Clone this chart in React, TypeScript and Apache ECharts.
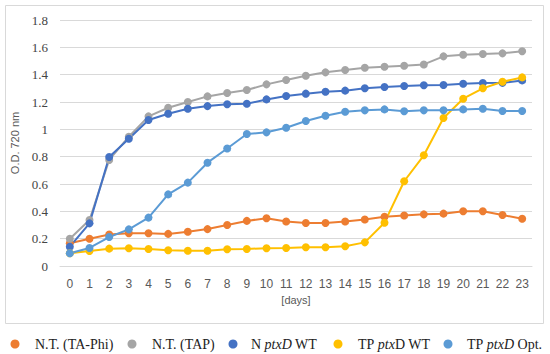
import React, { useEffect, useRef } from "react";
import * as echarts from "echarts";

const days = ["0","1","2","3","4","5","6","7","8","9","10","11","12","13","14","15","16","17","18","19","20","21","22","23"];
const ntTaPhi = [0.166,0.2,0.23,0.24,0.24,0.235,0.25,0.27,0.3,0.33,0.35,0.325,0.315,0.315,0.325,0.34,0.36,0.37,0.378,0.383,0.4,0.4,0.373,0.346];
const ntTap = [0.2,0.337,0.776,0.946,1.095,1.158,1.2,1.241,1.266,1.288,1.329,1.361,1.392,1.417,1.434,1.45,1.458,1.465,1.475,1.534,1.546,1.551,1.556,1.571];
const nPtxdWt = [0.141,0.312,0.798,0.931,1.068,1.114,1.15,1.17,1.183,1.187,1.219,1.244,1.261,1.275,1.283,1.3,1.31,1.317,1.322,1.324,1.334,1.339,1.34,1.358];
const tpPtxdWt = [0.093,0.11,0.127,0.13,0.125,0.115,0.111,0.112,0.122,0.125,0.13,0.132,0.137,0.137,0.144,0.173,0.317,0.62,0.81,1.083,1.224,1.3,1.348,1.38];
const tpPtxdOpt = [0.093,0.132,0.212,0.268,0.354,0.524,0.61,0.756,0.86,0.966,0.978,1.012,1.061,1.1,1.129,1.139,1.146,1.132,1.139,1.139,1.146,1.151,1.134,1.134];

const seriesNames = ["N.T. (TA-Phi)", "N.T. (TAP)", "N ptxD WT", "TP ptxD WT", "TP ptxD Opt."];
const legendLabels = ["N.T. (TA-Phi)", "N.T. (TAP)", "N {i|ptxD} WT", "TP {i|ptx}D WT", "TP {i|ptxD} Opt."];
const colors = ["#ED7D31", "#A5A5A5", "#4472C4", "#FFC000", "#5B9BD5"];
const legendDotX = [15, 132, 233, 338, 448];
const legendTextX = [35, 152, 251, 358, 467];

export default function App() {
  const ref = useRef<HTMLDivElement>(null);
  useEffect(() => {
    if (!ref.current) return;
    const chart = echarts.init(ref.current, null, { renderer: "svg" });
    const dataSets = [ntTaPhi, ntTap, nPtxdWt, tpPtxdWt, tpPtxdOpt];
    const serif = "Liberation Serif";
    const sans = "Liberation Sans";
    const legendY = 344;
    const legendGraphics: any[] = [];
    seriesNames.forEach((n, i) => {
      legendGraphics.push({
        type: "circle",
        shape: { cx: legendDotX[i], cy: legendY, r: 4.5 },
        style: { fill: colors[i] },
        silent: true,
      });
      legendGraphics.push({
        type: "text",
        x: legendTextX[i],
        y: legendY,
        silent: true,
        style: {
          text: legendLabels[i],
          fontFamily: serif,
          fontSize: 14,
          fill: "#222222",
          verticalAlign: "middle",
          align: "left",
          rich: { i: { fontFamily: serif, fontSize: 14, fontStyle: "italic", fill: "#222222", color: "#222222" } },
        },
      });
    });
    chart.setOption({
      animation: false,
      backgroundColor: "#ffffff",
      graphic: [
        {
          type: "rect",
          shape: { x: 5.5, y: 5.5, width: 538, height: 318 },
          style: { fill: "none", stroke: "#d9d9d9", lineWidth: 1 },
          silent: true,
        },
        ...legendGraphics,
      ],
      grid: { left: 60, right: 18, top: 20, bottom: 88, containLabel: false },
      xAxis: {
        type: "category",
        data: days,
        boundaryGap: true,
        name: "[days]",
        nameLocation: "middle",
        nameGap: 28,
        nameTextStyle: { fontFamily: sans, fontSize: 11, color: "#595959" },
        axisLine: { show: true, lineStyle: { color: "#d9d9d9" } },
        axisTick: { show: false },
        axisLabel: { fontFamily: sans, fontSize: 12, color: "#595959", margin: 12, interval: 0 },
      },
      yAxis: {
        type: "value",
        min: 0,
        max: 1.8,
        interval: 0.2,
        name: "O.D. 720 nm",
        nameLocation: "middle",
        nameGap: 35,
        nameTextStyle: { fontFamily: sans, fontSize: 11, color: "#595959" },
        axisLine: { show: false },
        axisTick: { show: false },
        axisLabel: { fontFamily: serif, fontSize: 13, color: "#444444", margin: 12 },
        splitLine: { lineStyle: { color: "#d9d9d9", width: 1 } },
      },
      series: seriesNames.map((n, i) => ({
        name: n,
        type: "line",
        data: dataSets[i],
        color: colors[i],
        symbol: "circle",
        symbolSize: 8,
        showAllSymbol: true,
        lineStyle: { width: 2, color: colors[i] },
        itemStyle: { color: colors[i] },
      })),
    });
    return () => chart.dispose();
  }, []);
  return <div ref={ref} style={{ width: 550, height: 354, position: "absolute", left: 0, top: 0 }} />;
}
